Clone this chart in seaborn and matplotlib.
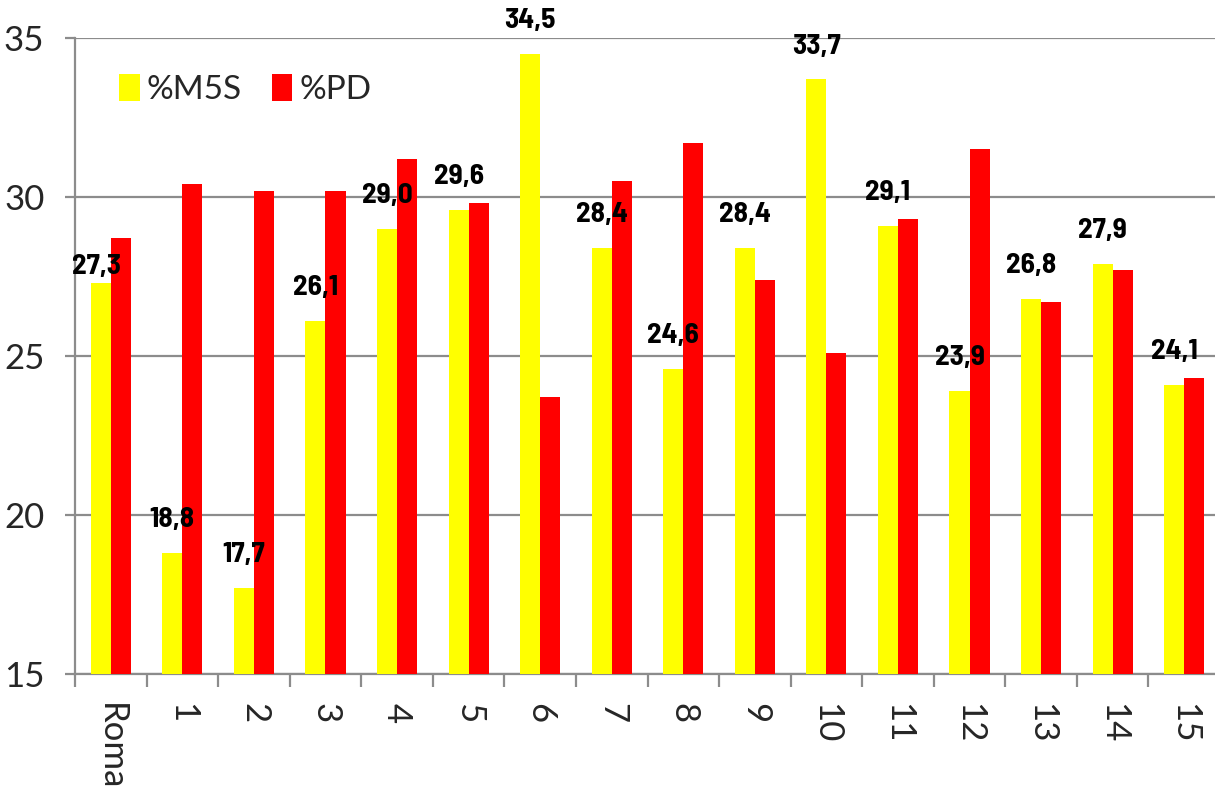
import matplotlib
matplotlib.use("Agg")
import matplotlib.pyplot as plt
import seaborn as sns
import pandas as pd
import numpy as np

categories = ["Roma", "1", "2", "3", "4", "5", "6", "7", "8", "9", "10", "11", "12", "13", "14", "15"]
m5s = [27.3, 18.8, 17.7, 26.1, 29.0, 29.6, 34.5, 28.4, 24.6, 28.4, 33.7, 29.1, 23.9, 26.8, 27.9, 24.1]
pd_vals = [28.7, 30.4, 30.2, 30.2, 31.2, 29.8, 23.7, 30.5, 31.7, 27.4, 25.1, 29.3, 31.5, 26.7, 27.7, 24.3]
series = ["%M5S", "%PD"]
yticks = [15, 20, 25, 30, 35]

df = pd.DataFrame({
    "cat": categories * 2,
    "val": m5s + pd_vals,
    "serie": [series[0]] * len(categories) + [series[1]] * len(categories),
})

sns.set_style("white")
plt.rcParams["font.family"] = ["Lato", "DejaVu Sans"]

fig = plt.figure(figsize=(12.15, 7.94), dpi=100)
ax = fig.add_axes([75 / 1215, 120 / 794, 1145 / 1215, 636 / 794])

sns.barplot(data=df, x="cat", y="val", hue="serie", order=categories,
            hue_order=series, palette=["#FFFF00", "#FF0000"], width=0.56,
            saturation=1, ax=ax, zorder=3, linewidth=0)

ax.set_ylim(15, 35)
ax.set_xlim(-0.5, len(categories) - 0.5)
ax.set_yticks(yticks)
ax.set_yticklabels([str(t) for t in yticks])
ax.set_xlabel("")
ax.set_ylabel("")

grid_c = "#8c8c8c"
ax.yaxis.grid(True, color=grid_c, linewidth=1.6, zorder=0)
ax.set_axisbelow(True)
for s in ["top", "right"]:
    ax.spines[s].set_visible(False)
for s in ["left", "bottom"]:
    ax.spines[s].set_color(grid_c)
    ax.spines[s].set_linewidth(1.6)

ax.tick_params(axis="y", which="major", direction="out", length=7, width=1.6,
               color=grid_c, labelsize=25, pad=15, left=True)
ax.set_xticks(np.arange(len(categories)))
ax.set_xticklabels(categories, rotation=-90, ha="center", va="top")
ax.set_xticks(np.arange(-0.5, len(categories), 1), minor=True)
ax.tick_params(axis="x", which="major", length=0, labelsize=25, pad=21)
ax.tick_params(axis="x", which="minor", direction="out", length=9, width=1.6,
               color=grid_c, bottom=True)

labels = [f"{v:.1f}".replace(".", ",") for v in m5s]
anns = ax.bar_label(ax.containers[0], labels=labels, padding=15,
                    fontsize=21, fontweight="bold", color="black",
                    fontfamily=["Barlow Semi Condensed", "DejaVu Sans"], zorder=5)
anns[0].xyann = (-3, 3)

leg = ax.legend(loc="upper left", bbox_to_anchor=(0.0125, 0.99), frameon=False,
                fontsize=24, handlelength=0.62, handleheight=0.85,
                handletextpad=0.2, ncol=2, columnspacing=0.9)

fig.savefig("out.png", dpi=100)
